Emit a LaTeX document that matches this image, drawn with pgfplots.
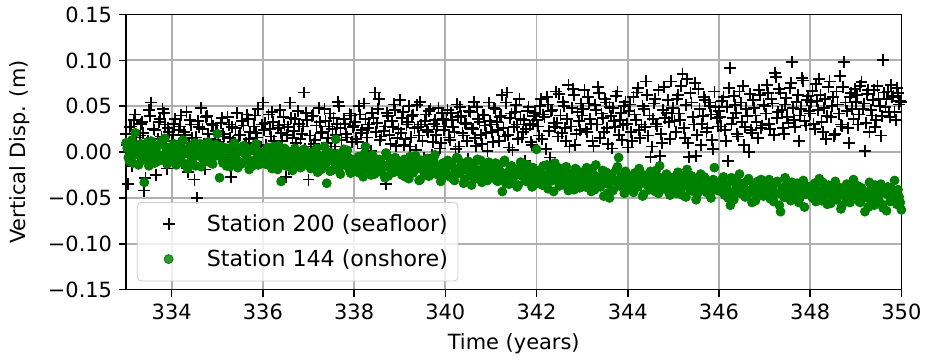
\documentclass[border=0pt]{standalone}
\usepackage{pgfplots}
\pgfplotsset{compat=1.18}
\usepackage{fontspec}
\setmainfont{DejaVu Sans}
\definecolor{mplgreen}{RGB}{0,128,0}
\definecolor{gridgray}{RGB}{176,176,176}
\begin{document}
\begin{tikzpicture}[font=\fontsize{10.5}{12.6}\selectfont]
\begin{axis}[
  scale only axis,
  width=389pt, height=138pt,
  xmin=333, xmax=350, ymin=-0.15, ymax=0.15,
  xtick={334,336,...,350},
  ytick={-0.15,-0.10,-0.05,0,0.05,0.10,0.15},
  yticklabels={−0.15,−0.10,−0.05,0.00,0.05,0.10,0.15},
  /pgf/number format/assume math mode=true,
  tick align=outside, tick pos=left,
  major tick length=3.5pt,
  every tick/.style={black, line width=0.8pt},
  axis line style={line width=0.9pt},
  grid=major,
  major grid style={gridgray, line width=0.9pt},
  xlabel={Time (years)},
  ylabel={Vertical Disp. (m)},
  xlabel style={at={(axis description cs:0.5,-0.1975)}, anchor=center},
  ylabel style={at={(axis description cs:-0.1368,0.5)}, anchor=center},
  legend style={at={(axis description cs:0.014,0.03)}, anchor=south west,
    rounded corners=2pt, draw=black!20, fill=white, fill opacity=0.8, text opacity=1,
    font=\fontsize{11.1}{13.3}\selectfont,
    row sep=3.5pt, inner xsep=3pt, inner ysep=4pt},
  legend cell align=left,
  legend image code/.code={\path (0pt,0pt) (29.5pt,0pt); \draw[#1] plot coordinates {(12.5pt,0pt)};},
  clip=true,
]
\addplot[only marks, mark=+, mark size=3pt, black, mark options={line width=0.9pt}] coordinates {
(333.00,0.020) (333.05,-0.035) (333.10,0.028) (333.15,0.005) (333.20,0.041) (333.25,-0.012) (333.30,0.018) (333.35,0.033) (333.40,-0.042) (333.45,0.010)
(333.50,0.046) (333.55,0.054) (333.60,0.025) (333.65,-0.025) (333.70,0.014) (333.75,0.036) (333.80,0.047) (333.85,0.030) (333.90,-0.018) (333.95,0.022)
(334.00,0.012) (334.05,0.031) (334.10,-0.008) (334.15,0.024) (334.20,0.040) (334.25,0.006) (334.30,0.019) (334.35,-0.022) (334.40,0.035) (334.45,0.015)
(334.50,-0.030) (334.55,-0.050) (334.60,0.027) (334.65,0.048) (334.70,0.009) (334.75,0.038) (334.80,0.020) (334.85,0.001) (334.90,0.029) (334.95,0.013)
(335.00,0.023) (335.05,0.004) (335.10,0.037) (335.15,0.017) (335.20,-0.010) (335.25,0.030) (335.30,-0.027) (335.35,0.011) (335.40,0.026) (335.45,-0.003)
(335.50,0.019) (335.55,0.034) (335.60,0.008) (335.65,0.041) (335.70,0.014) (335.75,-0.016) (335.80,0.028) (335.85,0.021) (335.90,0.047) (335.95,0.006)
(336.00,0.054) (336.05,0.032) (336.10,0.003) (336.15,0.025) (336.20,0.044) (336.25,0.012) (336.30,-0.007) (336.35,0.029) (336.40,0.021) (336.45,0.038)
(336.50,-0.027) (336.55,0.027) (336.60,0.054) (336.65,0.015) (336.70,0.036) (336.75,0.005) (336.80,0.031) (336.85,0.020) (336.90,0.065) (336.95,0.043)
(337.00,-0.030) (337.05,0.006) (337.10,0.040) (337.15,0.013) (337.20,-0.015) (337.25,0.033) (337.30,0.022) (337.35,0.047) (337.40,0.010) (337.45,0.028)
(337.50,0.002) (337.55,0.037) (337.60,0.019) (337.65,0.055) (337.70,0.026) (337.75,-0.008) (337.80,0.031) (337.85,0.016) (337.90,0.042) (337.95,0.011)
(338.00,0.029) (338.05,0.014) (338.10,0.050) (338.15,0.021) (338.20,0.004) (338.25,0.036) (338.30,0.026) (338.35,-0.005) (338.40,0.043) (338.45,0.065)
(338.50,0.032) (338.55,0.058) (338.60,0.017) (338.65,0.023) (338.70,-0.035) (338.75,0.039) (338.80,0.009) (338.85,0.027) (338.90,0.046) (338.95,0.015)
(339.00,0.057) (339.05,0.037) (339.10,0.008) (339.15,0.030) (339.20,0.050) (339.25,0.016) (339.30,0.041) (339.35,0.002) (339.40,0.027) (339.45,0.055)
(339.50,0.012) (339.55,0.034) (339.60,0.024) (339.65,0.045) (339.70,-0.003) (339.75,0.031) (339.80,0.019) (339.85,0.048) (339.90,0.010) (339.95,0.036)
(340.00,0.028) (340.05,0.046) (340.10,0.013) (340.15,0.035) (340.20,0.022) (340.25,0.052) (340.30,0.006) (340.35,0.039) (340.40,0.018) (340.45,0.031)
(340.50,-0.008) (340.55,0.044) (340.60,0.025) (340.65,0.015) (340.70,0.049) (340.75,0.033) (340.80,0.009) (340.85,0.040) (340.90,0.021) (340.95,0.054)
(341.00,0.030) (341.05,0.011) (341.10,0.047) (341.15,0.024) (341.20,0.038) (341.25,0.062) (341.30,0.017) (341.35,0.065) (341.40,0.005) (341.45,0.042)
(341.50,0.027) (341.55,0.051) (341.60,0.014) (341.65,0.036) (341.70,0.022) (341.75,-0.010) (341.80,0.045) (341.85,0.029) (341.90,0.008) (341.95,0.039)
(342.00,0.035) (342.05,0.018) (342.10,0.058) (342.15,0.041) (342.20,0.003) (342.25,0.052) (342.30,-0.006) (342.35,0.046) (342.40,0.027) (342.45,0.032)
(342.50,0.063) (342.55,0.021) (342.60,0.050) (342.65,0.012) (342.70,0.073) (342.75,0.028) (342.80,0.069) (342.85,0.008) (342.90,0.044) (342.95,0.024)
(343.00,0.040) (343.05,0.068) (343.10,0.022) (343.15,0.053) (343.20,0.031) (343.25,0.007) (343.30,0.046) (343.35,0.071) (343.40,0.015) (343.45,0.037)
(343.50,0.058) (343.55,0.026) (343.60,0.049) (343.65,0.004) (343.70,0.034) (343.75,0.061) (343.80,0.019) (343.85,0.043) (343.90,0.029) (343.95,0.055)
(344.00,0.005) (344.05,0.052) (344.10,0.012) (344.15,0.041) (344.20,0.065) (344.25,0.024) (344.30,0.030) (344.35,0.047) (344.40,0.077) (344.45,0.018)
(344.50,-0.005) (344.55,0.036) (344.60,0.058) (344.65,0.028) (344.70,-0.004) (344.75,0.010) (344.80,0.071) (344.85,0.043) (344.90,0.033) (344.95,0.077)
(345.00,0.048) (345.05,0.022) (345.10,0.062) (345.15,0.035) (345.20,0.085) (345.25,0.015) (345.30,0.080) (345.35,-0.005) (345.40,0.054) (345.45,0.030)
(345.50,-0.004) (345.55,0.069) (345.60,0.008) (345.65,0.039) (345.70,0.057) (345.75,0.026) (345.80,0.050) (345.85,0.013) (345.90,0.066) (345.95,0.037)
(346.00,0.045) (346.05,0.028) (346.10,0.060) (346.15,0.012) (346.20,-0.010) (346.25,0.092) (346.30,0.037) (346.35,0.051) (346.40,0.020) (346.45,0.066)
(346.50,0.033) (346.55,0.008) (346.60,0.047) (346.65,0.000) (346.70,0.024) (346.75,0.057) (346.80,0.040) (346.85,0.015) (346.90,0.062) (346.95,0.029)
(347.00,0.050) (347.05,0.073) (347.10,0.031) (347.15,0.058) (347.20,0.019) (347.25,0.082) (347.30,0.044) (347.35,0.064) (347.40,0.026) (347.45,0.052)
(347.50,0.038) (347.55,0.070) (347.60,0.098) (347.65,0.035) (347.70,0.055) (347.75,0.012) (347.80,0.047) (347.85,0.078) (347.90,0.029) (347.95,0.061)
(348.00,0.042) (348.05,0.067) (348.10,0.025) (348.15,0.056) (348.20,0.080) (348.25,0.033) (348.30,0.048) (348.35,0.014) (348.40,0.071) (348.45,0.038)
(348.50,0.060) (348.55,0.020) (348.60,0.052) (348.65,0.083) (348.70,0.028) (348.75,0.098) (348.80,0.045) (348.85,0.010) (348.90,0.064) (348.95,0.036)
(349.00,0.055) (349.05,0.030) (349.10,0.072) (349.15,0.047) (349.20,0.001) (349.25,0.063) (349.30,0.022) (349.35,0.040) (349.40,0.068) (349.45,0.035)
(349.50,0.058) (349.55,0.018) (349.60,0.100) (349.65,0.049) (349.70,0.066) (349.75,0.038) (349.80,0.060) (349.85,0.044) (349.90,0.070) (349.95,0.052)
(350.00,0.055)
(333.025,0.008) (333.075,0.027) (333.125,-0.015) (333.175,0.035) (333.225,0.016) (333.275,0.000) (333.325,0.031) (333.375,0.021) (333.425,-0.028) (333.475,0.012)
(333.525,0.039) (333.575,0.004) (333.625,0.024) (333.675,-0.007) (333.725,0.033) (333.775,0.017) (333.825,0.043) (333.875,0.009) (333.925,0.026) (333.975,-0.002)
(334.025,0.019) (334.075,0.036) (334.125,0.003) (334.175,0.028) (334.225,-0.012) (334.275,0.022) (334.325,0.044) (334.375,0.010) (334.425,0.030) (334.475,-0.004)
(334.525,0.016) (334.575,0.034) (334.625,0.007) (334.675,0.025) (334.725,-0.019) (334.775,0.039) (334.825,0.014) (334.875,0.031) (334.925,0.000) (334.975,0.023)
(335.025,0.011) (335.075,0.032) (335.125,0.020) (335.175,-0.006) (335.225,0.038) (335.275,0.015) (335.325,0.027) (335.375,0.002) (335.425,0.043) (335.475,0.018)
(335.525,-0.013) (335.575,0.029) (335.625,0.010) (335.675,0.036) (335.725,0.022) (335.775,0.005) (335.825,0.040) (335.875,0.016) (335.925,-0.002) (335.975,0.030)
(336.025,0.024) (336.075,0.008) (336.125,0.041) (336.175,0.017) (336.225,0.033) (336.275,-0.010) (336.325,0.026) (336.375,0.046) (336.425,0.012) (336.475,0.030)
(336.525,0.019) (336.575,-0.018) (336.625,0.037) (336.675,0.023) (336.725,0.010) (336.775,0.045) (336.825,0.014) (336.875,0.028) (336.925,0.003) (336.975,0.035)
(337.025,0.018) (337.075,0.039) (337.125,0.009) (337.175,0.029) (337.225,0.048) (337.275,0.021) (337.325,-0.005) (337.375,0.034) (337.425,0.015) (337.475,0.042)
(337.525,0.025) (337.575,0.006) (337.625,0.031) (337.675,0.050) (337.725,0.013) (337.775,0.036) (337.825,0.020) (337.875,-0.012) (337.925,0.040) (337.975,0.027)
(338.025,0.033) (338.075,0.011) (338.125,0.041) (338.175,0.024) (338.225,0.053) (338.275,0.016) (338.325,0.030) (338.375,0.001) (338.425,0.037) (338.475,0.022)
(338.525,0.047) (338.575,0.013) (338.625,-0.008) (338.675,0.028) (338.725,0.043) (338.775,0.019) (338.825,0.034) (338.875,0.052) (338.925,0.007) (338.975,0.025)
(339.025,0.021) (339.075,0.044) (339.125,0.014) (339.175,0.033) (339.225,0.006) (339.275,0.039) (339.325,0.026) (339.375,0.051) (339.425,0.018) (339.475,0.030)
(339.525,-0.006) (339.575,0.041) (339.625,0.022) (339.675,0.047) (339.725,0.011) (339.775,0.035) (339.825,0.028) (339.875,0.004) (339.925,0.043) (339.975,0.024)
(340.025,0.035) (340.075,0.016) (340.125,0.043) (340.175,0.027) (340.225,0.003) (340.275,0.038) (340.325,0.049) (340.375,0.021) (340.425,0.032) (340.475,0.012)
(340.525,0.045) (340.575,0.026) (340.625,0.055) (340.675,0.007) (340.725,0.036) (340.775,0.019) (340.825,0.041) (340.875,0.029) (340.925,0.001) (340.975,0.034)
(341.025,0.022) (341.075,0.048) (341.125,0.033) (341.175,0.012) (341.225,0.040) (341.275,0.026) (341.325,0.054) (341.375,0.019) (341.425,0.037) (341.475,0.002)
(341.525,0.044) (341.575,0.030) (341.625,0.058) (341.675,0.016) (341.725,0.035) (341.775,0.025) (341.825,0.049) (341.875,0.011) (341.925,0.031) (341.975,0.043)
(342.025,0.028) (342.075,0.050) (342.125,0.014) (342.175,0.038) (342.225,0.060) (342.275,0.023) (342.325,0.045) (342.375,0.032) (342.425,0.066) (342.475,0.017)
(342.525,0.040) (342.575,0.055) (342.625,0.026) (342.675,0.036) (342.725,0.006) (342.775,0.048) (342.825,0.062) (342.875,0.020) (342.925,0.034) (342.975,0.053)
(343.025,0.047) (343.075,0.025) (343.125,0.060) (343.175,0.036) (343.225,0.012) (343.275,0.051) (343.325,0.030) (343.375,0.064) (343.425,0.042) (343.475,0.022)
(343.525,0.054) (343.575,0.009) (343.625,0.039) (343.675,0.048) (343.725,0.027) (343.775,0.066) (343.825,0.035) (343.875,0.013) (343.925,0.050) (343.975,0.031)
(344.025,0.045) (344.075,0.022) (344.125,0.060) (344.175,0.035) (344.225,0.070) (344.275,0.015) (344.325,0.050) (344.375,0.027) (344.425,0.062) (344.475,0.040)
(344.525,0.006) (344.575,0.053) (344.625,0.031) (344.675,0.068) (344.725,0.020) (344.775,0.046) (344.825,0.037) (344.875,0.057) (344.925,0.014) (344.975,0.042)
(345.025,0.034) (345.075,0.058) (345.125,0.042) (345.175,0.072) (345.225,0.026) (345.275,0.051) (345.325,0.010) (345.375,0.064) (345.425,0.038) (345.475,0.075)
(345.525,0.019) (345.575,0.047) (345.625,0.031) (345.675,0.060) (345.725,0.022) (345.775,0.054) (345.825,0.041) (345.875,0.003) (345.925,0.049) (345.975,0.028)
(346.025,0.038) (346.075,0.056) (346.125,0.024) (346.175,0.049) (346.225,0.070) (346.275,0.031) (346.325,0.061) (346.375,0.043) (346.425,0.017) (346.475,0.054)
(346.525,0.072) (346.575,0.027) (346.625,0.039) (346.675,0.063) (346.725,0.021) (346.775,0.048) (346.825,0.033) (346.875,0.068) (346.925,0.026) (346.975,0.052)
(347.025,0.042) (347.075,0.064) (347.125,0.025) (347.175,0.053) (347.225,0.086) (347.275,0.037) (347.325,0.069) (347.375,0.046) (347.425,0.020) (347.475,0.059)
(347.525,0.032) (347.575,0.075) (347.625,0.048) (347.675,0.027) (347.725,0.062) (347.775,0.040) (347.825,0.081) (347.875,0.034) (347.925,0.057) (347.975,0.045)
(348.025,0.055) (348.075,0.031) (348.125,0.074) (348.175,0.046) (348.225,0.062) (348.275,0.022) (348.325,0.058) (348.375,0.039) (348.425,0.077) (348.475,0.050)
(348.525,0.018) (348.575,0.066) (348.625,0.042) (348.675,0.030) (348.725,0.071) (348.775,0.054) (348.825,0.026) (348.875,0.060) (348.925,0.047) (348.975,0.069)
(349.025,0.062) (349.075,0.041) (349.125,0.076) (349.175,0.053) (349.225,0.032) (349.275,0.068) (349.325,0.046) (349.375,0.057) (349.425,0.027) (349.475,0.072)
(349.525,0.050) (349.575,0.039) (349.625,0.065) (349.675,0.058) (349.725,0.044) (349.775,0.073) (349.825,0.061) (349.875,0.035) (349.925,0.064) (349.975,0.056)
};
\addlegendentry{Station 200 (seafloor)}
\addplot[only marks, mark=*, mark size=2.25pt, mplgreen, mark options={draw=mplgreen, fill=mplgreen}] coordinates {
(333.00,0.010) (333.05,-0.006) (333.10,0.003) (333.15,-0.012) (333.20,0.021) (333.25,-0.002) (333.30,0.007) (333.35,-0.009) (333.40,-0.033) (333.45,0.004)
(333.50,-0.015) (333.55,0.012) (333.60,-0.004) (333.65,0.001) (333.70,-0.010) (333.75,0.008) (333.80,-0.007) (333.85,0.015) (333.90,-0.013) (333.95,0.002)
(334.00,-0.005) (334.05,0.009) (334.10,-0.014) (334.15,0.003) (334.20,-0.008) (334.25,0.013) (334.30,-0.001) (334.35,-0.018) (334.40,0.006) (334.45,-0.011)
(334.50,0.010) (334.55,-0.004) (334.60,0.002) (334.65,-0.016) (334.70,0.007) (334.75,-0.009) (334.80,0.011) (334.85,-0.002) (334.90,-0.013) (334.95,0.004)
(335.00,0.020) (335.05,-0.028) (335.10,-0.007) (335.15,0.005) (335.20,-0.015) (335.25,0.001) (335.30,-0.010) (335.35,0.008) (335.40,-0.003) (335.45,-0.017)
(335.50,0.004) (335.55,-0.012) (335.60,0.006) (335.65,-0.006) (335.70,-0.019) (335.75,0.002) (335.80,-0.009) (335.85,0.009) (335.90,-0.014) (335.95,-0.001)
(336.00,-0.004) (336.05,-0.013) (336.10,0.005) (336.15,-0.009) (336.20,-0.018) (336.25,0.002) (336.30,-0.011) (336.35,0.007) (336.40,-0.032) (336.45,-0.006)
(336.50,-0.015) (336.55,0.001) (336.60,-0.008) (336.65,-0.020) (336.70,0.004) (336.75,-0.012) (336.80,-0.002) (336.85,-0.016) (336.90,0.003) (336.95,-0.010)
(337.00,-0.007) (337.05,-0.018) (337.10,0.000) (337.15,-0.012) (337.20,-0.022) (337.25,-0.004) (337.30,-0.015) (337.35,0.006) (337.40,-0.034) (337.45,-0.009)
(337.50,-0.001) (337.55,-0.019) (337.60,0.014) (337.65,-0.011) (337.70,-0.024) (337.75,-0.006) (337.80,-0.014) (337.85,0.002) (337.90,-0.020) (337.95,-0.008)
(338.00,-0.012) (338.05,-0.021) (338.10,-0.005) (338.15,-0.016) (338.20,-0.027) (338.25,0.006) (338.30,-0.010) (338.35,-0.019) (338.40,-0.003) (338.45,-0.024)
(338.50,-0.013) (338.55,-0.008) (338.60,-0.022) (338.65,-0.015) (338.70,-0.001) (338.75,-0.026) (338.80,-0.011) (338.85,-0.018) (338.90,-0.006) (338.95,-0.020)
(339.00,-0.014) (339.05,-0.025) (339.10,-0.008) (339.15,-0.019) (339.20,-0.029) (339.25,-0.011) (339.30,-0.022) (339.35,-0.004) (339.40,-0.017) (339.45,-0.030)
(339.50,-0.013) (339.55,-0.021) (339.60,-0.007) (339.65,-0.026) (339.70,-0.016) (339.75,-0.010) (339.80,-0.024) (339.85,-0.018) (339.90,-0.032) (339.95,-0.012)
(340.00,-0.020) (340.05,-0.009) (340.10,-0.027) (340.15,-0.015) (340.20,-0.031) (340.25,-0.006) (340.30,-0.023) (340.35,-0.013) (340.40,-0.034) (340.45,-0.018)
(340.50,-0.010) (340.55,-0.026) (340.60,-0.016) (340.65,-0.029) (340.70,-0.008) (340.75,-0.021) (340.80,-0.033) (340.85,-0.014) (340.90,-0.024) (340.95,-0.011)
(341.00,-0.017) (341.05,-0.028) (341.10,-0.012) (341.15,-0.032) (341.20,-0.021) (341.25,-0.043) (341.30,-0.009) (341.35,-0.025) (341.40,-0.035) (341.45,-0.015)
(341.50,-0.027) (341.55,-0.019) (341.60,-0.036) (341.65,-0.011) (341.70,-0.023) (341.75,-0.030) (341.80,-0.014) (341.85,-0.026) (341.90,-0.038) (341.95,-0.020)
(342.00,0.003) (342.05,-0.024) (342.10,-0.033) (342.15,-0.015) (342.20,-0.028) (342.25,-0.040) (342.30,-0.019) (342.35,-0.031) (342.40,-0.012) (342.45,-0.026)
(342.50,-0.037) (342.55,-0.021) (342.60,-0.029) (342.65,-0.016) (342.70,-0.042) (342.75,-0.024) (342.80,-0.034) (342.85,-0.018) (342.90,-0.027) (342.95,-0.039)
(343.00,-0.022) (343.05,-0.035) (343.10,-0.017) (343.15,-0.030) (343.20,-0.043) (343.25,-0.025) (343.30,-0.014) (343.35,-0.033) (343.40,-0.038) (343.45,-0.020)
(343.50,-0.028) (343.55,-0.045) (343.60,-0.050) (343.65,-0.024) (343.70,-0.031) (343.75,-0.019) (343.80,-0.006) (343.85,-0.027) (343.90,-0.034) (343.95,-0.021)
(344.00,-0.040) (344.05,-0.032) (344.10,-0.041) (344.15,-0.023) (344.20,-0.035) (344.25,-0.018) (344.30,-0.029) (344.35,-0.046) (344.40,-0.026) (344.45,-0.037)
(344.50,-0.021) (344.55,-0.033) (344.60,-0.043) (344.65,-0.027) (344.70,-0.015) (344.75,-0.039) (344.80,-0.030) (344.85,-0.024) (344.90,-0.044) (344.95,-0.031)
(345.00,-0.028) (345.05,-0.040) (345.10,-0.022) (345.15,-0.035) (345.20,-0.047) (345.25,-0.030) (345.30,-0.019) (345.35,-0.038) (345.40,-0.026) (345.45,-0.043)
(345.50,-0.052) (345.55,-0.033) (345.60,-0.024) (345.65,-0.041) (345.70,-0.029) (345.75,-0.036) (345.80,-0.045) (345.85,-0.031) (345.90,-0.017) (345.95,-0.038)
(346.00,-0.033) (346.05,-0.043) (346.10,-0.027) (346.15,-0.039) (346.20,-0.050) (346.25,-0.058) (346.30,-0.031) (346.35,-0.046) (346.40,-0.036) (346.45,-0.024)
(346.50,-0.041) (346.55,-0.034) (346.60,-0.048) (346.65,-0.029) (346.70,-0.044) (346.75,-0.038) (346.80,-0.053) (346.85,-0.032) (346.90,-0.042) (346.95,-0.035)
(347.00,-0.037) (347.05,-0.047) (347.10,-0.030) (347.15,-0.043) (347.20,-0.054) (347.25,-0.034) (347.30,-0.045) (347.35,-0.065) (347.40,-0.039) (347.45,-0.028)
(347.50,-0.050) (347.55,-0.041) (347.60,-0.033) (347.65,-0.048) (347.70,-0.036) (347.75,-0.055) (347.80,-0.044) (347.85,-0.031) (347.90,-0.046) (347.95,-0.040)
(348.00,-0.038) (348.05,-0.050) (348.10,-0.034) (348.15,-0.045) (348.20,-0.029) (348.25,-0.053) (348.30,-0.041) (348.35,-0.047) (348.40,-0.036) (348.45,-0.056)
(348.50,-0.043) (348.55,-0.032) (348.60,-0.049) (348.65,-0.039) (348.70,-0.058) (348.75,-0.044) (348.80,-0.035) (348.85,-0.051) (348.90,-0.042) (348.95,-0.030)
(349.00,-0.048) (349.05,-0.037) (349.10,-0.055) (349.15,-0.043) (349.20,-0.065) (349.25,-0.050) (349.30,-0.033) (349.35,-0.046) (349.40,-0.058) (349.45,-0.040)
(349.50,-0.052) (349.55,-0.035) (349.60,-0.061) (349.65,-0.045) (349.70,-0.038) (349.75,-0.054) (349.80,-0.047) (349.85,-0.031) (349.90,-0.057) (349.95,-0.049)
(350.00,-0.063)
(333.025,0.004) (333.075,-0.010) (333.125,0.013) (333.175,-0.003) (333.225,0.006) (333.275,-0.014) (333.325,0.009) (333.375,-0.001) (333.425,-0.008) (333.475,0.011)
(333.525,-0.005) (333.575,0.002) (333.625,-0.012) (333.675,0.007) (333.725,-0.003) (333.775,0.012) (333.825,-0.009) (333.875,0.000) (333.925,0.005) (333.975,-0.006)
(334.025,0.001) (334.075,-0.010) (334.125,0.008) (334.175,-0.006) (334.225,0.012) (334.275,-0.013) (334.325,0.003) (334.375,-0.002) (334.425,-0.009) (334.475,0.006)
(334.525,-0.015) (334.575,0.000) (334.625,0.009) (334.675,-0.007) (334.725,-0.003) (334.775,0.005) (334.825,-0.011) (334.875,0.002) (334.925,-0.005) (334.975,0.008)
(335.025,-0.003) (335.075,0.006) (335.125,-0.012) (335.175,-0.001) (335.225,0.004) (335.275,-0.016) (335.325,-0.005) (335.375,0.010) (335.425,-0.008) (335.475,0.001)
(335.525,-0.013) (335.575,0.007) (335.625,-0.004) (335.675,-0.010) (335.725,0.003) (335.775,-0.015) (335.825,0.005) (335.875,-0.007) (335.925,0.000) (335.975,-0.011)
(336.025,-0.008) (336.075,0.001) (336.125,-0.014) (336.175,-0.004) (336.225,0.006) (336.275,-0.010) (336.325,-0.019) (336.375,-0.002) (336.425,-0.012) (336.475,0.004)
(336.525,-0.007) (336.575,-0.016) (336.625,-0.001) (336.675,-0.011) (336.725,0.002) (336.775,-0.006) (336.825,-0.017) (336.875,-0.003) (336.925,-0.013) (336.975,0.000)
(337.025,-0.010) (337.075,-0.003) (337.125,-0.016) (337.175,0.004) (337.225,-0.008) (337.275,-0.019) (337.325,-0.005) (337.375,-0.013) (337.425,0.000) (337.475,-0.021)
(337.525,-0.007) (337.575,-0.012) (337.625,-0.002) (337.675,-0.017) (337.725,-0.009) (337.775,0.003) (337.825,-0.014) (337.875,-0.006) (337.925,-0.023) (337.975,-0.011)
(338.025,-0.015) (338.075,-0.007) (338.125,-0.023) (338.175,-0.010) (338.225,-0.002) (338.275,-0.018) (338.325,-0.013) (338.375,-0.025) (338.425,-0.006) (338.475,-0.016)
(338.525,-0.021) (338.575,-0.009) (338.625,-0.014) (338.675,-0.028) (338.725,-0.004) (338.775,-0.017) (338.825,-0.011) (338.875,-0.022) (338.925,-0.008) (338.975,-0.019)
(339.025,-0.020) (339.075,-0.010) (339.125,-0.027) (339.175,-0.015) (339.225,-0.005) (339.275,-0.023) (339.325,-0.013) (339.375,-0.018) (339.425,-0.031) (339.475,-0.009)
(339.525,-0.021) (339.575,-0.014) (339.625,-0.026) (339.675,-0.011) (339.725,-0.019) (339.775,-0.003) (339.825,-0.024) (339.875,-0.016) (339.925,-0.028) (339.975,-0.012)
(340.025,-0.017) (340.075,-0.025) (340.125,-0.012) (340.175,-0.029) (340.225,-0.020) (340.275,-0.007) (340.325,-0.023) (340.375,-0.016) (340.425,-0.030) (340.475,-0.011)
(340.525,-0.022) (340.575,-0.036) (340.625,-0.014) (340.675,-0.019) (340.725,-0.027) (340.775,-0.009) (340.825,-0.024) (340.875,-0.018) (340.925,-0.031) (340.975,-0.015)
(341.025,-0.025) (341.075,-0.014) (341.125,-0.031) (341.175,-0.019) (341.225,-0.027) (341.275,-0.011) (341.325,-0.034) (341.375,-0.022) (341.425,-0.016) (341.475,-0.029)
(341.525,-0.024) (341.575,-0.038) (341.625,-0.018) (341.675,-0.026) (341.725,-0.013) (341.775,-0.032) (341.825,-0.021) (341.875,-0.028) (341.925,-0.017) (341.975,-0.035)
(342.025,-0.030) (342.075,-0.020) (342.125,-0.036) (342.175,-0.025) (342.225,-0.014) (342.275,-0.032) (342.325,-0.022) (342.375,-0.043) (342.425,-0.028) (342.475,-0.017)
(342.525,-0.035) (342.575,-0.026) (342.625,-0.021) (342.675,-0.038) (342.725,-0.031) (342.775,-0.023) (342.825,-0.041) (342.875,-0.019) (342.925,-0.033) (342.975,-0.026)
(343.025,-0.029) (343.075,-0.038) (343.125,-0.023) (343.175,-0.033) (343.225,-0.018) (343.275,-0.041) (343.325,-0.027) (343.375,-0.036) (343.425,-0.030) (343.475,-0.048)
(343.525,-0.022) (343.575,-0.035) (343.625,-0.026) (343.675,-0.042) (343.725,-0.032) (343.775,-0.016) (343.825,-0.037) (343.875,-0.028) (343.925,-0.045) (343.975,-0.025)
(344.025,-0.036) (344.075,-0.027) (344.125,-0.044) (344.175,-0.030) (344.225,-0.038) (344.275,-0.022) (344.325,-0.048) (344.375,-0.034) (344.425,-0.025) (344.475,-0.041)
(344.525,-0.029) (344.575,-0.037) (344.625,-0.020) (344.675,-0.045) (344.725,-0.032) (344.775,-0.040) (344.825,-0.026) (344.875,-0.035) (344.925,-0.047) (344.975,-0.028)
(345.025,-0.036) (345.075,-0.045) (345.125,-0.031) (345.175,-0.040) (345.225,-0.026) (345.275,-0.049) (345.325,-0.034) (345.375,-0.042) (345.425,-0.029) (345.475,-0.038)
(345.525,-0.046) (345.575,-0.032) (345.625,-0.040) (345.675,-0.027) (345.725,-0.044) (345.775,-0.035) (345.825,-0.050) (345.875,-0.030) (345.925,-0.039) (345.975,-0.042)
(346.025,-0.040) (346.075,-0.030) (346.125,-0.047) (346.175,-0.036) (346.225,-0.044) (346.275,-0.028) (346.325,-0.052) (346.375,-0.039) (346.425,-0.033) (346.475,-0.045)
(346.525,-0.037) (346.575,-0.049) (346.625,-0.031) (346.675,-0.042) (346.725,-0.055) (346.775,-0.035) (346.825,-0.046) (346.875,-0.040) (346.925,-0.030) (346.975,-0.048)
(347.025,-0.043) (347.075,-0.035) (347.125,-0.051) (347.175,-0.038) (347.225,-0.046) (347.275,-0.032) (347.325,-0.058) (347.375,-0.042) (347.425,-0.049) (347.475,-0.036)
(347.525,-0.044) (347.575,-0.053) (347.625,-0.039) (347.675,-0.047) (347.725,-0.034) (347.775,-0.050) (347.825,-0.041) (347.875,-0.060) (347.925,-0.037) (347.975,-0.045)
(348.025,-0.047) (348.075,-0.037) (348.125,-0.054) (348.175,-0.042) (348.225,-0.050) (348.275,-0.033) (348.325,-0.046) (348.375,-0.057) (348.425,-0.040) (348.475,-0.048)
(348.525,-0.036) (348.575,-0.052) (348.625,-0.044) (348.675,-0.062) (348.725,-0.039) (348.775,-0.049) (348.825,-0.041) (348.875,-0.055) (348.925,-0.045) (348.975,-0.038)
(349.025,-0.043) (349.075,-0.054) (349.125,-0.039) (349.175,-0.050) (349.225,-0.046) (349.275,-0.060) (349.325,-0.041) (349.375,-0.052) (349.425,-0.036) (349.475,-0.049)
(349.525,-0.044) (349.575,-0.057) (349.625,-0.042) (349.675,-0.064) (349.725,-0.047) (349.775,-0.039) (349.825,-0.053) (349.875,-0.045) (349.925,-0.041) (349.975,-0.055)
};
\addlegendentry{Station 144 (onshore)}
\end{axis}
\path ([shift={(-63.25pt,-35.25pt)}]current axis.south west) rectangle ([shift={(11.5pt,7.25pt)}]current axis.north east);
\end{tikzpicture}
\end{document}
